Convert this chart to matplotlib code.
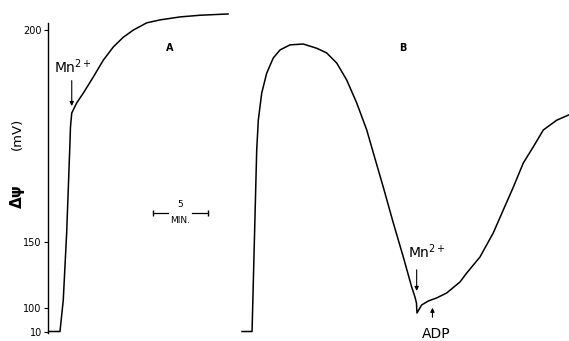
import numpy as np
import matplotlib
matplotlib.use("Agg")
import matplotlib.pyplot as plt

# hand-drawn, non-linear potential axis: tick value (mV) -> position used on the page
knot_mv = np.array([-40, 10, 100, 150, 200, 260])
knot_pos = -np.array([344.4, 331.5, 308.3, 241.7, 30, -224.0])
tick_mv = [10, 100, 150, 200]
tick_labels = ["10", "100", "150", "200"]

# trace A (time in min, delta psi in mV)
t_a = [0.0, 1.13, 1.44, 1.76, 1.92, 2.08, 2.12, 2.24, 2.71, 3.33, 4.27, 5.22,
       6.16, 7.10, 8.05, 9.31, 10.57, 12.45, 14.34, 16.98]
psi_a = [10, 10, 106.2, 152.1, 162.9, 174.0, 177.1, 180.4, 182.8, 185.1,
         188.9, 192.9, 196.0, 198.3, 200.0, 201.7, 202.4, 203.1, 203.5, 203.8]

# trace B
t_b = [18.30, 19.25, 19.69, 19.84, 20.16, 20.63, 21.25, 21.89, 22.83, 24.08,
       25.35, 26.29, 27.24, 28.18, 29.12, 30.07, 30.69, 31.63, 32.58, 33.52,
       34.31, 34.62, 34.76, 34.81, 35.25, 35.88, 36.67, 37.61, 38.87, 39.50,
       40.75, 42.01, 42.95, 43.90, 44.84, 45.78, 46.73, 47.99, 49.08, 49.6]
psi_b = [10, 10, 171.7, 178.7, 185.1, 189.8, 193.4, 195.3, 196.5, 196.7,
         195.7, 194.6, 192.2, 188.2, 182.8, 176.4, 171.0, 162.9, 154.4, 138.5,
         116.0, 108.5, 104.0, 81.8, 102.5, 105.5, 107.8, 111.5, 119.8, 126.5,
         138.5, 152.1, 157.5, 162.9, 168.6, 172.4, 176.4, 178.7, 179.9, 180.3]


def fwd(v):
    return np.interp(v, knot_mv, knot_pos)


def inv(p):
    return np.interp(p, knot_pos, knot_mv)


fig = plt.figure(figsize=(5.69, 3.41), dpi=100)
ax = fig.add_axes([48 / 569, 0, 1 - 48 / 569, 1])
ax.set_yscale("function", functions=(fwd, inv))
ax.set_xlim(0, (569 - 48) / 10.6)
ax.set_ylim(-26.8, 207.1)

ax.plot(t_a, psi_a, color="black", lw=1.1)
ax.plot(t_b, psi_b, color="black", lw=1.1)

for s in ["top", "right", "bottom"]:
    ax.spines[s].set_visible(False)
ax.spines["left"].set_bounds(6, 201.7)
ax.spines["left"].set_linewidth(1.0)
ax.set_xticks([])
ax.set_yticks(tick_mv)
ax.set_yticklabels(tick_labels, fontsize=7)
ax.yaxis.set_minor_locator(matplotlib.ticker.NullLocator())
ax.tick_params(axis="y", length=3, width=0.8, pad=1.5)

fig.text(17 / 569, 1 - 196 / 341, "Δψ", rotation=90,
         ha="center", va="center", fontsize=11, fontweight="bold")
fig.text(17 / 569, 1 - 134 / 341, "(mV)", rotation=90,
         ha="center", va="center", fontsize=9.5)

# panel letters
ax.text(11.5, 195.8, "A", fontsize=7, fontweight="bold", ha="center", va="center")
ax.text(33.5, 195.8, "B", fontsize=7, fontweight="bold", ha="center", va="center")

# time scale bar
ax.plot([9.91, 11.3], [156.8, 156.8], color="black", lw=0.9, marker="|", markevery=[0], ms=5)
ax.plot([13.6, 15.1], [156.8, 156.8], color="black", lw=0.9, marker="|", markevery=[1], ms=5)
ax.text(12.45, 158.8, "5", fontsize=6.5, ha="center", va="center")
ax.text(12.5, 154.9, "MIN.", fontsize=6.5, ha="center", va="center")

arrow = dict(arrowstyle="-|>", color="black", lw=0.8, mutation_scale=6)
ax.annotate("", xy=(2.24, 181.4), xytext=(2.24, 188.7), arrowprops=arrow)
ax.text(2.36, 191.3, r"Mn$^{2+}$", fontsize=10, ha="center", va="center")

ax.annotate("", xy=(34.78, 111.0), xytext=(34.78, 131.0), arrowprops=arrow)
ax.text(35.75, 142.3, r"Mn$^{2+}$", fontsize=10, ha="center", va="center")

ax.annotate("", xy=(36.27, 102.5), xytext=(36.27, 54.6), arrowprops=arrow)
ax.text(36.65, 0.3, "ADP", fontsize=10, ha="center", va="center")

fig.savefig("out.png", dpi=100, facecolor="white")
